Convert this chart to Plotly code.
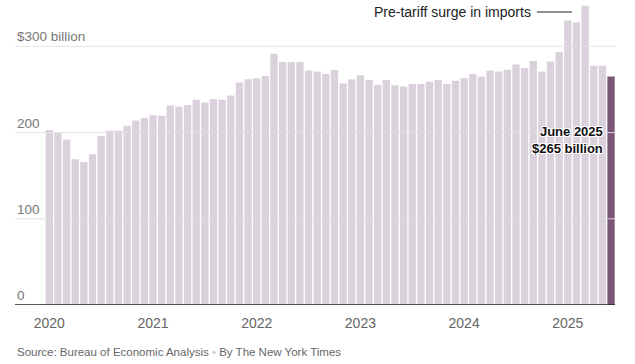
import plotly.graph_objects as go

months = [f"{y}-{m:02d}" for y in range(2020, 2026) for m in range(1, 13)][:66]
imports = [203, 199.5, 192, 169, 166, 175, 196, 202, 202, 208, 214, 217,
           220, 219.5, 231.5, 230, 232, 238, 235, 239, 238, 243, 258, 262,
           263, 265.5, 291.5, 282, 282, 282, 272, 271, 268, 272.5, 257, 262,
           266.5, 261, 255.5, 261, 255, 253.5, 256.5, 256.5, 259, 261, 256.5, 260,
           263, 268, 265, 272, 271, 273, 279, 275, 283, 271, 282.5, 293.5,
           330, 328, 347, 277.5, 277.5, 265]
year_ticks = ["2020-01", "2021-01", "2022-01", "2023-01", "2024-01", "2025-01"]
year_labels = ["2020", "2021", "2022", "2023", "2024", "2025"]
y_ticks = [0, 100, 200, 300]
y_labels = ["0", "100", "200", "$300 billion"]

light = "#dbd1dc"
dark = "#7a5576"
colors = [light] * (len(imports) - 1) + [dark]

fig = go.Figure()
fig.add_trace(go.Bar(x=months, y=imports, marker=dict(color=colors, line=dict(width=0)),
                     hoverinfo="skip"))

font = "Liberation Sans, Arial, sans-serif"
shapes = []
annotations = []
for v, lab in zip(y_ticks, y_labels):
    if v > 0:
        shapes.append(dict(type="line", xref="paper", yref="y", x0=0, x1=1, y0=v, y1=v,
                           line=dict(color="rgba(225,225,225,0.9)", width=1), layer="above"))
    annotations.append(dict(xref="paper", yref="y", x=0, y=v, text=lab, showarrow=False,
                            xanchor="left", yanchor="bottom", yshift=0,
                            font=dict(family=font, size=13.5, color="#777")))
# baseline
shapes.append(dict(type="line", xref="paper", yref="y", x0=0, x1=1, y0=0, y1=0,
                   line=dict(color="#222", width=1.5), layer="above"))

# annotation: pre-tariff surge
annotations.append(dict(xref="x", yref="paper", x=months[62], y=1, text="Pre-tariff surge in imports",
                        showarrow=False, xanchor="right", yanchor="middle", xshift=-52, yshift=-7,
                        font=dict(family=font, size=14, color="#222")))
shapes.append(dict(type="line", xref="paper", yref="paper", x0=(537 - 15) / 600, x1=(572 - 15) / 600,
                   y0=(305 - 12) / 300, y1=(305 - 12) / 300, line=dict(color="#222", width=1)))

annotations.append(dict(xref="x", yref="y", x=months[-1], y=imports[-1],
                        text="<b>June 2025</b><br><b>$265 billion</b>", showarrow=False,
                        xanchor="right", yanchor="middle", align="right", xshift=-6, yshift=-63,
                        font=dict(family=font, size=13, color="#111",
                                  shadow="1px 1px 0 #fff, -1px -1px 0 #fff, 1px -1px 0 #fff, -1px 1px 0 #fff")))

annotations.append(dict(xref="paper", yref="paper", x=0, y=0, yshift=-47, xanchor="left", yanchor="middle",
                        text="Source: Bureau of Economic Analysis <span style='color:#ccc'>•</span> By The New York Times",
                        showarrow=False, font=dict(family=font, size=11.5, color="#666")))

fig.update_layout(
    width=635, height=364,
    margin=dict(l=15, r=20, t=5, b=59),
    paper_bgcolor="white", plot_bgcolor="white",
    bargap=0.15,
    showlegend=False,
    xaxis=dict(type="category", range=[-3.97, 65.46], tickvals=year_ticks, ticktext=year_labels,
               tickfont=dict(family=font, size=14, color="#666"), ticks="outside", ticklen=5,
               tickcolor="rgba(0,0,0,0)", showgrid=False,
               zeroline=False, showline=False, fixedrange=True),
    yaxis=dict(range=[0, 348], showgrid=False, zeroline=False, showticklabels=False,
               showline=False, fixedrange=True),
    shapes=shapes, annotations=annotations,
)

fig.write_html("out.html", config={"displayModeBar": False},
               post_script="document.body.style.margin='0px';")
